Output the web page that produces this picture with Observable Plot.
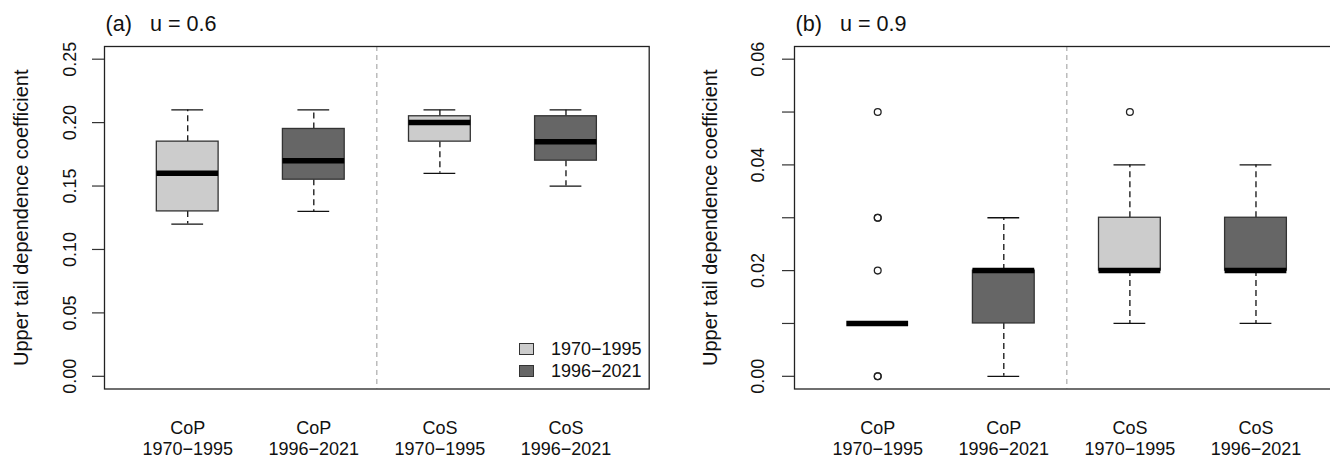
<!DOCTYPE html>
<html>
<head>
<meta charset="utf-8">
<script src="https://cdn.jsdelivr.net/npm/d3@7"></script>
<script src="https://cdn.jsdelivr.net/npm/@observablehq/plot@0.6"></script>
<style>
  html, body { margin: 0; padding: 0; background: white; overflow: hidden; }
  #wrap { position: relative; width: 1360px; height: 458px; display: flex; flex-wrap: nowrap; font-family: "Liberation Sans", Arial, sans-serif; }
  #legend { position: absolute; left: 519px; top: 338px; font-size: 18px; color: #111; line-height: 22px; }
  #legend .row { display: flex; align-items: center; height: 22px; }
  #legend .sw { width: 13px; height: 10px; border: 1px solid #333; margin-right: 17px; }
</style>
</head>
<body>
<div id="wrap"><div id="pa"></div><div id="pb"></div>
  <div id="legend"></div>
</div>
<script>
// ---- data ----
const types = ["CoP", "CoP", "CoS", "CoS"];
const periods = ["1970\u22121995", "1996\u22122021", "1970\u22121995", "1996\u22122021"];
const periodNames = ["1970\u22121995", "1996\u22122021"];
const periodColors = ["#cccccc", "#666666"];
const yLabel = "Upper tail dependence coefficient";

// Panel (a) u = 0.6
const aTitle = "(a)\u00a0\u00a0\u00a0u = 0.6";
const aLow = [0.12, 0.13, 0.16, 0.15];
const aQ1 = [0.13, 0.155, 0.185, 0.17];
const aMed = [0.16, 0.17, 0.20, 0.185];
const aQ3 = [0.185, 0.195, 0.205, 0.205];
const aHigh = [0.21, 0.21, 0.21, 0.21];
const aOutGroup = [];
const aOutVal = [];
const aTicks = [0, 0.05, 0.10, 0.15, 0.20, 0.25];
const aTickLabels = [0, 0.05, 0.10, 0.15, 0.20, 0.25];

// Panel (b) u = 0.9
const bTitle = "(b)\u00a0\u00a0\u00a0u = 0.9";
const bLow = [0.01, 0.00, 0.01, 0.01];
const bQ1 = [0.01, 0.01, 0.02, 0.02];
const bMed = [0.01, 0.02, 0.02, 0.02];
const bQ3 = [0.01, 0.02, 0.03, 0.03];
const bHigh = [0.01, 0.03, 0.04, 0.04];
const bOutGroup = [1, 1, 1, 1, 1, 1, 3];
const bOutVal = [0.05, 0.03, 0.03, 0.02, 0.00, 0.00, 0.05];
const bTicks = [0, 0.01, 0.02, 0.03, 0.04, 0.05, 0.06];
const bTickLabels = [0, 0.02, 0.04, 0.06];

const fontFamily = "'Liberation Sans', Arial, sans-serif";

function panel({title, low, q1, med, q3, high, outG, outV, ticks, tickLabels, yDomain, marginLeft, width, labelDx, tickDx}) {
  const stats = types.map((t, k) => ({
    i: k + 1, type: t, period: periods[k],
    lo: low[k], q1: q1[k], med: med[k], q3: q3[k], hi: high[k],
    fill: periodColors[k % 2]
  }));
  const outs = outG.map((g, k) => ({i: g, v: outV[k]}));
  const bw = 0.245, cw = 0.126;
  return Plot.plot({
    width, height: 458,
    marginLeft, marginRight: width - marginLeft - 544.7, marginTop: 46, marginBottom: 69.5,
    style: {fontFamily, fontSize: "18px", color: "#111", background: "white", overflow: "visible"},
    x: {domain: [0.34, 4.66], axis: null},
    y: {domain: yDomain, axis: null},
    marks: [
      Plot.ruleX([2.5], {stroke: "#999", strokeWidth: 1, strokeDasharray: "5,4"}),
      Plot.ruleX(stats, {x: "i", y1: "q3", y2: "hi", stroke: "#111", strokeWidth: 1.3, strokeDasharray: "6,4"}),
      Plot.ruleX(stats, {x: "i", y1: "q1", y2: "lo", stroke: "#111", strokeWidth: 1.3, strokeDasharray: "6,4"}),
      Plot.ruleY(stats, {y: "hi", x1: d => d.i - cw, x2: d => d.i + cw, stroke: "#111", strokeWidth: 1.3}),
      Plot.ruleY(stats, {y: "lo", x1: d => d.i - cw, x2: d => d.i + cw, stroke: "#111", strokeWidth: 1.3}),
      Plot.rect(stats.filter(d => d.q3 > d.q1), {x1: d => d.i - bw, x2: d => d.i + bw, y1: "q1", y2: "q3", fill: "fill", stroke: "#333", strokeWidth: 1.3}),
      Plot.ruleY(stats, {y: "med", x1: d => d.i - bw, x2: d => d.i + bw, stroke: "#000", strokeWidth: 5.5}),
      Plot.dot(outs, {x: "i", y: "v", r: 3.4, stroke: "#222", strokeWidth: 1.3, fill: "none"}),
      Plot.frame({stroke: "#222", strokeWidth: 1.3}),
      Plot.axisY({ticks, tickSize: 12, tickFormat: () => "", label: null, stroke: "#333", strokeWidth: 1.2}),
      Plot.text(tickLabels, {y: d => d, text: d => d.toFixed(2), frameAnchor: "left", textAnchor: "middle", lineAnchor: "middle", dx: tickDx, rotate: -90, fontSize: 18, fill: "#111"}),
      Plot.text([yLabel], {text: d => d, frameAnchor: "left", textAnchor: "middle", lineAnchor: "middle", dx: labelDx, rotate: -90, fontSize: 20, fill: "#111"}),
      Plot.text(stats, {x: "i", text: "type", frameAnchor: "bottom", lineAnchor: "middle", dy: 39.4, fontSize: 18, fill: "#111"}),
      Plot.text(stats, {x: "i", text: "period", frameAnchor: "bottom", lineAnchor: "middle", dy: 59.8, fontSize: 18, fill: "#111"}),
      Plot.text([title], {text: d => d, frameAnchor: "top-left", textAnchor: "start", lineAnchor: "middle", dx: 1, dy: -22.9, fontSize: 21.6, fill: "#111"})
    ]
  });
}

document.getElementById("pa").appendChild(panel({
  title: aTitle, low: aLow, q1: aQ1, med: aMed, q3: aQ3, high: aHigh,
  outG: aOutGroup, outV: aOutVal, ticks: aTicks, tickLabels: aTickLabels,
  yDomain: [-0.01, 0.26], marginLeft: 104, width: 665, labelDx: -83, tickDx: -34
}));
document.getElementById("pb").appendChild(panel({
  title: bTitle, low: bLow, q1: bQ1, med: bMed, q3: bQ3, high: bHigh,
  outG: bOutGroup, outV: bOutVal, ticks: bTicks, tickLabels: bTickLabels,
  yDomain: [-0.0024, 0.0624], marginLeft: 129, width: 690, labelDx: -84, tickDx: -36
}));

const legend = document.getElementById("legend");
periodNames.forEach((p, k) => {
  const row = document.createElement("div");
  row.className = "row";
  const sw = document.createElement("div");
  sw.className = "sw";
  sw.style.background = periodColors[k];
  const t = document.createElement("span");
  t.textContent = p;
  row.appendChild(sw); row.appendChild(t);
  legend.appendChild(row);
});
</script>
</body>
</html>
